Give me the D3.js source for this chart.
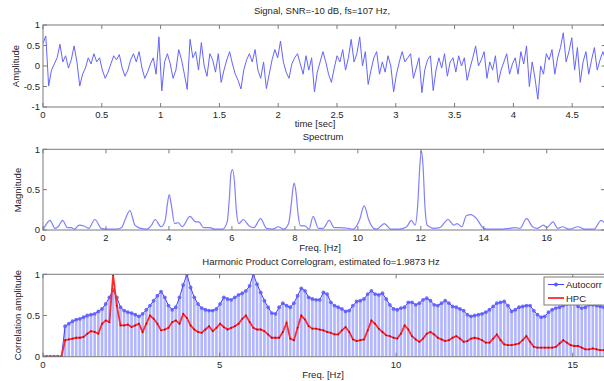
<!DOCTYPE html>
<html>
<head>
<meta charset="utf-8">
<script src="https://cdn.jsdelivr.net/npm/d3@7"></script>
<style>
  html, body { margin: 0; padding: 0; background: #fff; }
  svg { display: block; }
  text { font-family: "Liberation Sans", Arial, sans-serif; fill: #262626; }
</style>
</head>
<body>
<svg id="chart" width="604" height="381"></svg>
<script>
// ---- Signal (time domain), fs = 107 Hz ----
const signalDuration = 4.785;
const signalValues = [
  0.55, 0.73, -0.49, -0.1, 0.05, 0.2, 0.53, 0.1, 0.25, -0.05,
  0.15, 0.49, 0.1, -0.49, -0.2, -0.05, 0.2, 0.05, 0.3, 0.1,
  0.2, -0.1, -0.3, -0.15, 0.05, 0.25, 0.15, 0.28, -0.05, -0.25,
  -0.1, 0.15, 0.3, 0.1, 0.35, -0.05, -0.3, -0.15, 0.05, 0.2,
  -0.2, 0.71, -0.61, 0.1, 0.3, 0.05, -0.3, -0.1, 0.4, 0.15,
  -0.2, -0.57, 0.65, 0.2, 0.35, -0.1, 0.57, 0.0, -0.25, 0.3,
  0.15, -0.15, 0.3, -0.4, -0.1, 0.15, 0.35, 0.05, -0.2, -0.35,
  -0.56, -0.1, 0.15, 0.3, 0.1, 0.4, -0.1, -0.3, 0.1, -0.55,
  -0.2, 0.15, 0.4, 0.2, 0.61, 0.1, -0.15, -0.3, 0.05, 0.2,
  0.3, 0.05, -0.2, 0.25, -0.1, 0.2, -0.63, -0.15, 0.1, 0.35,
  0.1, -0.2, -0.4, -0.05, 0.25, 0.1, 0.4, -0.1, 0.2, 0.65,
  0.1, 0.3, 0.71, 0.0, 0.35, -0.45, -0.1, 0.2, 0.35, -0.2,
  0.1, -0.15, 0.25, 0.0, -0.63, -0.2, 0.1, 0.35, 0.1, 0.2,
  0.3, -0.3, -0.05, 0.2, -0.65, -0.1, 0.15, 0.25, -0.6, -0.1,
  0.2, -0.05, 0.3, -0.25, 0.1, 0.2, -0.15, 0.25, 0.0, 0.2,
  -0.35, -0.05, 0.2, 0.49, 0.0, 0.15, 0.35, -0.3, 0.1, -0.1,
  0.25, -0.4, -0.1, 0.1, 0.3, -0.2, 0.05, 0.2, -0.2, 0.35,
  0.05, 0.49, -0.5, 0.1, -0.3, -0.81, 0.0, -0.2, 0.3, 0.15,
  0.4, -0.2, 0.2, 0.45, 0.81, 0.1, 0.35, 0.69, -0.1, 0.45,
  -0.4, 0.1, 0.35, -0.2, 0.15, 0.45, -0.1, 0.15, 0.35, 0.15
];
const timeTicks = [0, 0.5, 1, 1.5, 2, 2.5, 3, 3.5, 4, 4.5];
const ampTicks = [-1, -0.5, 0, 0.5, 1];

// ---- Spectrum ----
const specFreq = [0,0.1,0.22,0.38,0.5,0.62,0.78,0.9,1.0,1.15,1.3,1.45,1.65,1.85,2.0,2.35,2.5,2.6,2.76,2.92,3.1,3.3,3.45,3.56,3.75,3.88,3.95,4.01,4.08,4.18,4.3,4.42,4.67,4.85,4.95,5.1,5.3,5.45,5.7,5.85,5.92,5.97,6.02,6.08,6.14,6.22,6.36,6.55,6.7,6.91,7.1,7.3,7.47,7.65,7.8,7.88,7.94,7.98,8.04,8.1,8.18,8.32,8.45,8.58,8.75,8.9,9.09,9.25,9.45,9.7,9.85,10.05,10.2,10.35,10.5,10.6,10.84,11.05,11.3,11.55,11.7,11.82,11.9,11.97,12.02,12.07,12.13,12.2,12.28,12.4,12.6,12.87,13.05,13.15,13.3,13.45,13.6,13.75,14.0,14.1,14.4,14.6,14.8,15.0,15.15,15.36,15.55,15.7,15.9,16.0,16.2,16.35,16.5,16.7,17.0,17.2,17.5,17.73,17.85];
const specMag  = [0,0.07,0.12,0.02,0.05,0.12,0.03,0.03,0.01,0.06,0.05,0.02,0.13,0.02,0.01,0.01,0.03,0.12,0.24,0.06,0.02,0.01,0.06,0.13,0.04,0.12,0.32,0.44,0.3,0.08,0.09,0.04,0.17,0.1,0.1,0.03,0.03,0.01,0.01,0.1,0.4,0.7,0.75,0.6,0.25,0.08,0.13,0.05,0.03,0.14,0.02,0.01,0.04,0.01,0.08,0.3,0.52,0.58,0.45,0.2,0.05,0.05,0.01,0.17,0.02,0.02,0.12,0.03,0.03,0.02,0.01,0.12,0.3,0.12,0.02,0.01,0.08,0.01,0.01,0.04,0.12,0.06,0.3,0.8,0.98,0.8,0.3,0.06,0.04,0.02,0.03,0.13,0.06,0.08,0.04,0.18,0.19,0.15,0.02,0.01,0.01,0.01,0.02,0.03,0.02,0.14,0.04,0.02,0.06,0.03,0.1,0.02,0.04,0.01,0.04,0.01,0.01,0.12,0.08];
const specFreqTicks = [0, 2, 4, 6, 8, 10, 12, 14, 16];
const unitTicks = [0, 0.5, 1];

// ---- Harmonic product correlogram (bin spacing fs/1024) ----
const binWidth = 107 / 1024;
const autocorr = [
  0, 0, 0, 0, 0, 0, 0.37, 0.40, 0.43, 0.45,
  0.46, 0.48, 0.50, 0.51, 0.52, 0.55, 0.58, 0.64, 0.72, 0.81,
  0.72, 0.60, 0.56, 0.54, 0.53, 0.51, 0.49, 0.52, 0.57, 0.62,
  0.68, 0.74, 0.79, 0.72, 0.62, 0.57, 0.60, 0.72, 0.87, 1.00,
  0.84, 0.72, 0.64, 0.59, 0.57, 0.56, 0.56, 0.58, 0.64, 0.72,
  0.70, 0.69, 0.72, 0.75, 0.77, 0.80, 0.86, 1.00, 0.88, 0.78,
  0.68, 0.60, 0.53, 0.52, 0.60, 0.65, 0.62, 0.60, 0.65, 0.74,
  0.83, 0.80, 0.72, 0.70, 0.69, 0.69, 0.78, 0.76, 0.66, 0.62,
  0.60, 0.58, 0.55, 0.56, 0.62, 0.67, 0.68, 0.70, 0.76, 0.80,
  0.76, 0.75, 0.77, 0.70, 0.63, 0.58, 0.57, 0.59, 0.60, 0.66,
  0.66, 0.63, 0.65, 0.69, 0.71, 0.68, 0.63, 0.62, 0.65, 0.68,
  0.65, 0.61, 0.60, 0.58, 0.56, 0.51, 0.49, 0.50, 0.51, 0.52,
  0.54, 0.57, 0.61, 0.65, 0.66, 0.67, 0.62, 0.55, 0.57, 0.60,
  0.61, 0.62, 0.62, 0.56, 0.51, 0.48, 0.49, 0.54, 0.57, 0.59,
  0.60, 0.62, 0.64, 0.66, 0.65, 0.61, 0.59, 0.60, 0.63, 0.63,
  0.62, 0.61, 0.60, 0.60
];
const hpc = [
  0, 0, 0, 0, 0, 0, 0.20, 0.21, 0.22, 0.23,
  0.23, 0.24, 0.28, 0.31, 0.30, 0.28, 0.40, 0.44, 0.42, 0.99,
  0.62, 0.38, 0.38, 0.39, 0.36, 0.38, 0.40, 0.30, 0.40, 0.50,
  0.46, 0.40, 0.32, 0.33, 0.35, 0.42, 0.44, 0.40, 0.52, 0.47,
  0.38, 0.33, 0.30, 0.29, 0.33, 0.37, 0.31, 0.35, 0.40, 0.36,
  0.33, 0.35, 0.37, 0.40, 0.46, 0.50, 0.42, 0.35, 0.33, 0.33,
  0.31, 0.27, 0.23, 0.23, 0.23, 0.30, 0.41, 0.22, 0.20, 0.35,
  0.50, 0.45, 0.37, 0.34, 0.34, 0.33, 0.32, 0.30, 0.29, 0.27,
  0.27, 0.32, 0.36, 0.30, 0.21, 0.19, 0.20, 0.21, 0.32, 0.44,
  0.40, 0.34, 0.30, 0.26, 0.25, 0.23, 0.22, 0.28, 0.38, 0.33,
  0.25, 0.21, 0.18, 0.22, 0.28, 0.30, 0.27, 0.23, 0.21, 0.19,
  0.20, 0.23, 0.25, 0.22, 0.18, 0.19, 0.22, 0.23, 0.22, 0.20,
  0.17, 0.17, 0.22, 0.27, 0.20, 0.15, 0.14, 0.14, 0.15, 0.16,
  0.20, 0.25, 0.18, 0.12, 0.11, 0.11, 0.11, 0.11, 0.11, 0.12,
  0.16, 0.20, 0.17, 0.14, 0.13, 0.13, 0.11, 0.09, 0.09, 0.10,
  0.09, 0.08, 0.08, 0.07
];
const corrFreqTicks = [0, 5, 10, 15];

const titles = {
  signal: "Signal, SNR=-10 dB, fs=107 Hz,",
  spectrum: "Spectrum",
  hpc: "Harmonic Product Correlogram, estimated fo=1.9873 Hz"
};

const svg = d3.select("#chart");
const FONT = 9.5;
const AXIS_COLOR = "#7a7a7a";

// Draws a MATLAB-style boxed axes with inward ticks on all four sides
function drawAxes(g, x, y, xTicks, yTicks, xFmt, yFmt) {
  const [x0, x1] = x.range();
  const [yb, yt] = y.range();
  const tl = 4;
  g.append("rect").attr("x", x0).attr("y", yt).attr("width", x1 - x0).attr("height", yb - yt)
    .attr("fill", "none").attr("stroke", AXIS_COLOR).attr("stroke-width", 1);
  xTicks.forEach(v => {
    const px = x(v);
    g.append("line").attr("x1", px).attr("x2", px).attr("y1", yb).attr("y2", yb - tl).attr("stroke", AXIS_COLOR);
    g.append("line").attr("x1", px).attr("x2", px).attr("y1", yt).attr("y2", yt + tl).attr("stroke", AXIS_COLOR);
    g.append("text").attr("x", px).attr("y", yb + 11).attr("text-anchor", "middle")
      .attr("font-size", FONT).text(xFmt(v));
  });
  yTicks.forEach(v => {
    const py = y(v);
    g.append("line").attr("x1", x0).attr("x2", x0 + tl).attr("y1", py).attr("y2", py).attr("stroke", AXIS_COLOR);
    g.append("line").attr("x1", x1).attr("x2", x1 - tl).attr("y1", py).attr("y2", py).attr("stroke", AXIS_COLOR);
    g.append("text").attr("x", x0 - 3).attr("y", py + 3.4).attr("text-anchor", "end")
      .attr("font-size", FONT).text(yFmt(v));
  });
}

function label(txt, x, y, rotate) {
  const t = svg.append("text").attr("font-size", FONT).attr("text-anchor", "middle").text(txt);
  if (rotate) t.attr("transform", `translate(${x},${y}) rotate(-90)`);
  else t.attr("x", x).attr("y", y);
  return t;
}

function clipFor(id, x, y) {
  const [x0, x1] = x.range();
  const [yb, yt] = y.range();
  svg.append("clipPath").attr("id", id).append("rect")
    .attr("x", x0).attr("y", yt).attr("width", x1 - x0).attr("height", yb - yt);
  return `url(#${id})`;
}

const fmt = d => String(d);

// ---------- Panel 1: signal ----------
{
  const x = d3.scaleLinear().domain([0, signalDuration]).range([43, 605.7]);
  const y = d3.scaleLinear().domain([-1, 1]).range([107, 25]);
  const g = svg.append("g");
  const dt = signalDuration / (signalValues.length - 1);
  const line = d3.line().x((d, i) => x(i * dt)).y(d => y(d));
  g.append("path").datum(signalValues).attr("d", line)
    .attr("clip-path", clipFor("clip1", x, y))
    .attr("fill", "none").attr("stroke", "#6464ff").attr("stroke-width", 1);
  drawAxes(g, x, y, timeTicks, ampTicks, fmt, fmt);
  label(titles.signal, 322, 14);
  label("time [sec]", 315, 127);
  label("Amplitude", 19, 66, true);
}

// ---------- Panel 2: spectrum ----------
{
  const x = d3.scaleLinear().domain([0, 17.85]).range([43, 605]);
  const y = d3.scaleLinear().domain([0, 1]).range([230, 149.3]);
  const g = svg.append("g");
  const line = d3.line().x((d, i) => x(specFreq[i])).y(d => y(d)).curve(d3.curveMonotoneX);
  g.append("path").datum(specMag).attr("d", line)
    .attr("clip-path", clipFor("clip2", x, y))
    .attr("fill", "none").attr("stroke", "#8080ff").attr("stroke-width", 1.2);
  drawAxes(g, x, y, specFreqTicks, unitTicks, fmt, fmt);
  label(titles.spectrum, 323, 140);
  label("Freq. [Hz]", 320, 251);
  label("Magnitude", 21, 190, true);
}

// ---------- Panel 3: harmonic product correlogram ----------
{
  const x = d3.scaleLinear().domain([0, 16]).range([43, 608]);
  const y = d3.scaleLinear().domain([0, 1]).range([356.7, 274.3]);
  const g = svg.append("g");
  const clip = clipFor("clip3", x, y);
  const plot = g.append("g").attr("clip-path", clip);
  const bw = (x(binWidth) - x(0)) * 0.72;

  // autocorrelation bars
  plot.selectAll("rect.bar").data(autocorr).join("rect").attr("class", "bar")
    .attr("x", (d, i) => x(i * binWidth) - bw / 2)
    .attr("width", bw)
    .attr("y", d => y(d))
    .attr("height", d => y(0) - y(d))
    .attr("fill", "#b2b6ff");

  // autocorrelation line with markers
  const lineA = d3.line().x((d, i) => x(i * binWidth)).y(d => y(d));
  plot.append("path").datum(autocorr).attr("d", lineA)
    .attr("fill", "none").attr("stroke", "#4040ff").attr("stroke-width", 1);
  plot.selectAll("circle.ac").data(autocorr).join("circle").attr("class", "ac")
    .attr("cx", (d, i) => x(i * binWidth)).attr("cy", d => y(d)).attr("r", 1.9)
    .attr("fill", "#5a5aff").attr("fill-opacity", 0.85);

  // HPC line
  const lineH = d3.line().x((d, i) => x(i * binWidth)).y(d => y(d));
  plot.append("path").datum(hpc).attr("d", lineH)
    .attr("fill", "none").attr("stroke", "#ff2a2a").attr("stroke-width", 1.8);
  plot.selectAll("circle.hp").data(hpc).join("circle").attr("class", "hp")
    .attr("cx", (d, i) => x(i * binWidth)).attr("cy", d => y(d)).attr("r", 0.9)
    .attr("fill", "#c00000");

  drawAxes(g, x, y, corrFreqTicks, unitTicks, fmt, fmt);
  label(titles.hpc, 321, 265);
  label("Freq. [Hz]", 323, 378);
  label("Correlation amplitude", 21, 315, true);

  // legend
  const lg = svg.append("g");
  lg.append("rect").attr("x", 544).attr("y", 277).attr("width", 70).attr("height", 28)
    .attr("fill", "#fff").attr("stroke", AXIS_COLOR);
  lg.append("line").attr("x1", 548).attr("x2", 564).attr("y1", 284.5).attr("y2", 284.5)
    .attr("stroke", "#4040ff").attr("stroke-width", 1);
  lg.append("circle").attr("cx", 556).attr("cy", 284.5).attr("r", 1.9).attr("fill", "#5a5aff");
  lg.append("text").attr("x", 566).attr("y", 288).attr("font-size", FONT).text("Autocorr");
  lg.append("line").attr("x1", 548).attr("x2", 564).attr("y1", 298).attr("y2", 298)
    .attr("stroke", "#ff2a2a").attr("stroke-width", 1.8);
  lg.append("text").attr("x", 566).attr("y", 301.5).attr("font-size", FONT).text("HPC");
}
</script>
</body>
</html>
